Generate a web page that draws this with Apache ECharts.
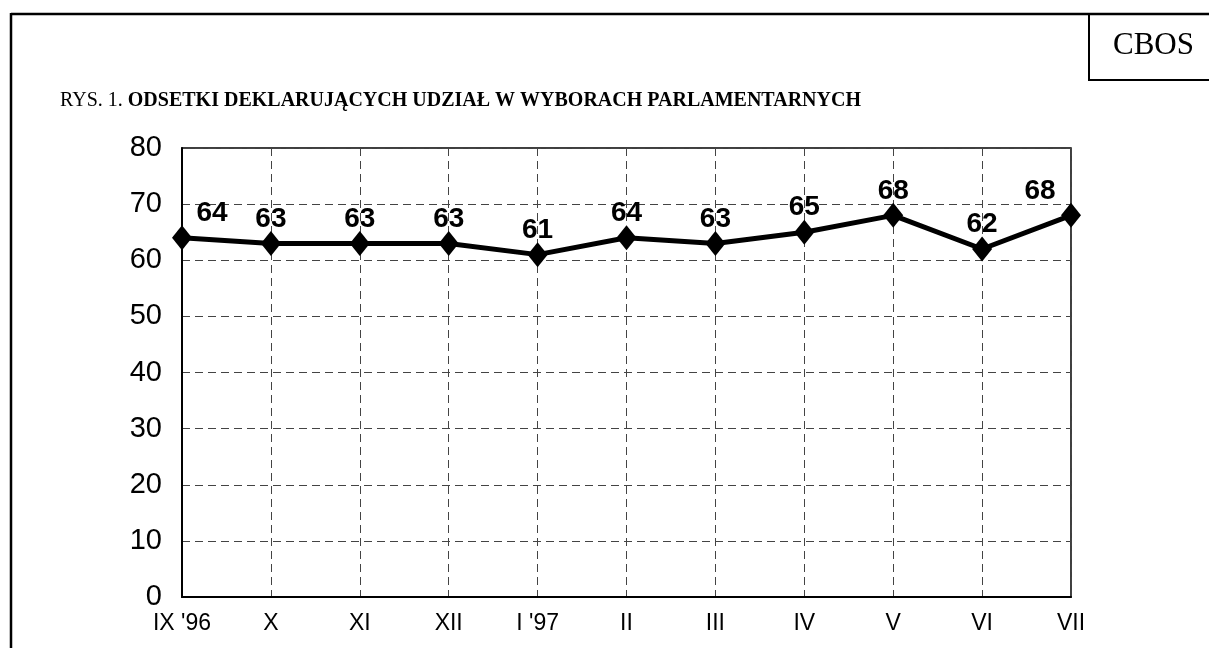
<!DOCTYPE html>
<html>
<head>
<meta charset="utf-8">
<script src="https://cdn.jsdelivr.net/npm/echarts@6/dist/echarts.min.js"></script>
<style>
  html, body { margin: 0; padding: 0; background: #fff; }
  #chart { width: 1209px; height: 648px; }
</style>
</head>
<body>
<div id="chart"></div>
<script>
var months = ["IX '96", 'X', 'XI', 'XII', "I '97", 'II', 'III', 'IV', 'V', 'VI', 'VII'];
var turnout = [64, 63, 63, 63, 61, 64, 63, 65, 68, 62, 68];
var yTicks = [0, 10, 20, 30, 40, 50, 60, 70, 80];

var myChart = echarts.init(document.getElementById('chart'));

// first and last labels are pushed sideways like in the original
var points = turnout.map(function (v, i) {
    var item = { value: v };
    if (i === 0) item.label = { offset: [30, 0] };
    if (i === turnout.length - 1) item.label = { offset: [-31, 0] };
    return item;
});

myChart.setOption({
    backgroundColor: '#fff',
    animation: false,
    title: {
        left: 60,
        top: 91,
        padding: 0,
        text: '{a|RYS. 1. }{b|ODSETKI DEKLARUJĄCYCH UDZIAŁ W WYBORACH PARLAMENTARNYCH}',
        textStyle: {
            fontWeight: 'normal',
            rich: {
                a: { fontFamily: 'Liberation Serif', fontSize: 20, fontWeight: 'normal', color: '#000' },
                b: { fontFamily: 'Liberation Serif', fontSize: 20, fontWeight: 'bold', color: '#000' }
            }
        }
    },
    graphic: [
        { type: 'line', shape: { x1: 11, y1: 14, x2: 1209, y2: 14 }, style: { stroke: '#000', lineWidth: 2.5 } },
        { type: 'line', shape: { x1: 11, y1: 13, x2: 11, y2: 648 }, style: { stroke: '#000', lineWidth: 2.5 } },
        { type: 'line', shape: { x1: 1089, y1: 14, x2: 1089, y2: 80 }, style: { stroke: '#000', lineWidth: 2 } },
        { type: 'line', shape: { x1: 1088, y1: 80, x2: 1209, y2: 80 }, style: { stroke: '#000', lineWidth: 2 } },
        {
            type: 'text', left: 1113, top: 30,
            style: { text: 'CBOS', fontFamily: 'Liberation Serif', fontSize: 31, fill: '#000' }
        }
    ],
    grid: {
        left: 182, right: 138, top: 148, bottom: 51,
        show: true, borderColor: '#000', borderWidth: 1.5
    },
    xAxis: {
        type: 'category',
        data: months,
        boundaryGap: false,
        axisLine: { lineStyle: { color: '#000', width: 2 } },
        axisTick: { show: false },
        axisLabel: { color: '#000', fontFamily: 'Liberation Sans', fontSize: 23, margin: 15 },
        splitLine: { show: true, lineStyle: { color: '#444', width: 1, type: [8, 5] } }
    },
    yAxis: {
        type: 'value',
        min: yTicks[0],
        max: yTicks[yTicks.length - 1],
        interval: 10,
        axisLine: { show: true, lineStyle: { color: '#000', width: 2 } },
        axisTick: { show: false },
        axisLabel: { color: '#000', fontFamily: 'Liberation Sans', fontSize: 29, margin: 20 },
        splitLine: { show: true, lineStyle: { color: '#444', width: 1, type: [8, 5] } }
    },
    series: [{
        type: 'line',
        data: points,
        symbol: 'diamond',
        symbolSize: [20, 25],
        lineStyle: { color: '#000', width: 5 },
        itemStyle: { color: '#000' },
        label: {
            show: true,
            position: 'top',
            distance: -2,
            color: '#000',
            fontFamily: 'Liberation Sans',
            fontWeight: 'bold',
            fontSize: 28
        }
    }]
});
</script>
</body>
</html>
